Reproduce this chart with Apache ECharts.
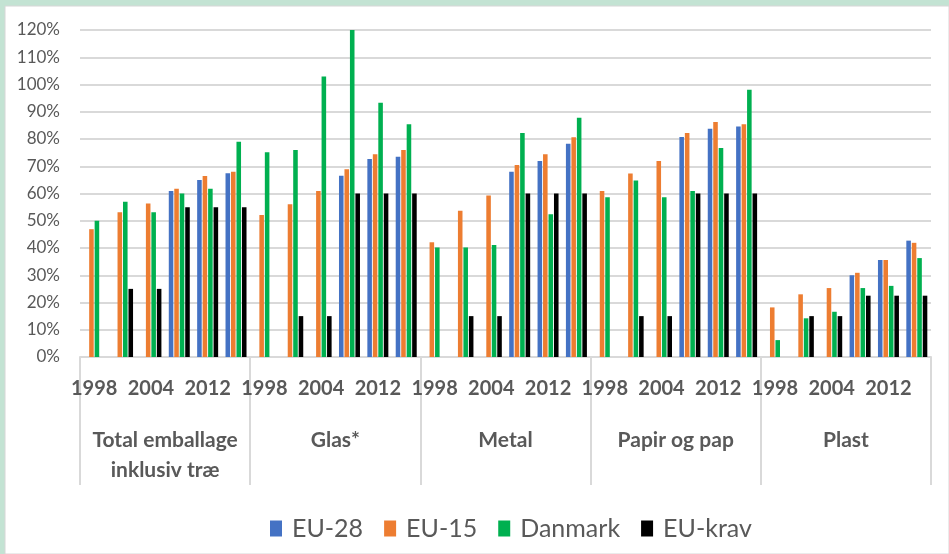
<!DOCTYPE html>
<html>
<head>
<meta charset="utf-8">
<script src="https://cdn.jsdelivr.net/npm/echarts@6/dist/echarts.min.js"></script>
<style>
html,body{margin:0;padding:0;background:#c3e3d3;}
#c{width:949px;height:554px;}
</style>
</head>
<body>
<div id="c"></div>
<script>
const groups = ['Total emballage\ninklusiv træ', 'Glas*', 'Metal', 'Papir og pap', 'Plast'];
const years = ['1998', '2001', '2004', '2008', '2012', '2014'];
const seriesNames = ['EU-28', 'EU-15', 'Danmark', 'EU-krav'];
const seriesColors = ['#4472C4', '#ED7D31', '#00B050', '#000000'];

// values in %, per group: 6 years each
const eu28 = [
  null, null, null, 60.9, 65.0, 67.4,
  null, null, null, 66.5, 72.7, 73.5,
  null, null, null, 68.0, 71.9, 78.3,
  null, null, null, 80.7, 83.8, 84.6,
  null, null, null, 30.0, 35.6, 42.7
];
const eu15 = [
  46.9, 53.1, 56.3, 61.7, 66.4, 68.0,
  52.1, 56.1, 60.9, 68.9, 74.4, 76.0,
  42.1, 53.7, 59.3, 70.5, 74.4, 80.6,
  60.9, 67.3, 71.9, 82.2, 86.2, 85.4,
  18.2, 23.0, 25.3, 30.9, 35.6, 41.9
];
const danmark = [
  50.0, 57.0, 53.1, 60.0, 61.7, 79.0,
  75.1, 76.0, 102.9, 120.4, 93.3, 85.4,
  40.2, 40.2, 41.1, 82.2, 52.4, 87.8,
  58.6, 64.8, 58.6, 60.9, 76.7, 98.1,
  6.2, 14.2, 16.6, 25.3, 26.1, 36.3
];
const eukrav = [
  null, 25, 25, 55, 55, 55,
  null, 15, 15, 60, 60, 60,
  null, 15, 15, 60, 60, 60,
  null, 15, 15, 60, 60, 60,
  null, 15, 15, 22.5, 22.5, 22.5
];
const yTicks = {min: 0, max: 120, interval: 10};

const cats = [];
groups.forEach(() => years.forEach(y => cats.push(y)));
const values = [eu28, eu15, danmark, eukrav];

const FONT = 'Lato, "Open Sans", sans-serif';
const grey = '#595959';
const lineGrey = '#d9d9d9';

const chart = echarts.init(document.getElementById('c'));
chart.setOption({
  backgroundColor: '#c3e3d3',
  animation: false,
  graphic: [
    {type: 'rect', shape: {x: 5, y: 6, width: 944, height: 548}, style: {fill: '#ffffff', stroke: '#d6d6d6', lineWidth: 1}, z: -10, silent: true}
  ],
  grid: {left: 80, right: 18, top: 30, bottom: 197, containLabel: false},
  legend: {
    bottom: 13,
    left: 270,
    padding: 0,
    itemWidth: 12,
    itemHeight: 16,
    itemGap: 21,
    icon: 'rect',
    textStyle: {fontFamily: FONT, fontSize: 25, color: grey, padding: [0, 0, 0, 5]},
    data: seriesNames
  },
  xAxis: [
    {
      type: 'category',
      data: cats,
      axisLine: {show: true, lineStyle: {color: lineGrey, width: 2}},
      axisTick: {show: false},
      axisLabel: {
        interval: (i) => i % 2 === 0,
        margin: 22,
        fontFamily: FONT, fontWeight: 'bold', fontSize: 20, color: grey
      },
      splitLine: {show: false}
    },
    {
      type: 'category',
      data: groups,
      position: 'bottom',
      axisLine: {show: false},
      axisTick: {show: true, interval: 0, length: 128, lineStyle: {color: lineGrey, width: 2}},
      axisLabel: {
        interval: 0,
        margin: 68,
        fontFamily: FONT, fontWeight: 'bold', fontSize: 21, color: grey,
        lineHeight: 30, verticalAlign: 'top'
      },
      splitLine: {show: false}
    }
  ],
  yAxis: {
    type: 'value',
    min: yTicks.min, max: yTicks.max, interval: yTicks.interval,
    axisLine: {show: false},
    axisTick: {show: false},
    axisLabel: {formatter: '{value}%', fontFamily: FONT, fontSize: 17, color: grey, margin: 20},
    splitLine: {lineStyle: {color: lineGrey, width: 2}}
  },
  series: seriesNames.map((n, k) => ({
    name: n,
    type: 'bar',
    xAxisIndex: 0,
    data: values[k],
    itemStyle: {color: seriesColors[k]},
    barGap: '20%',
    barCategoryGap: '26%'
  }))
});
</script>
</body>
</html>
